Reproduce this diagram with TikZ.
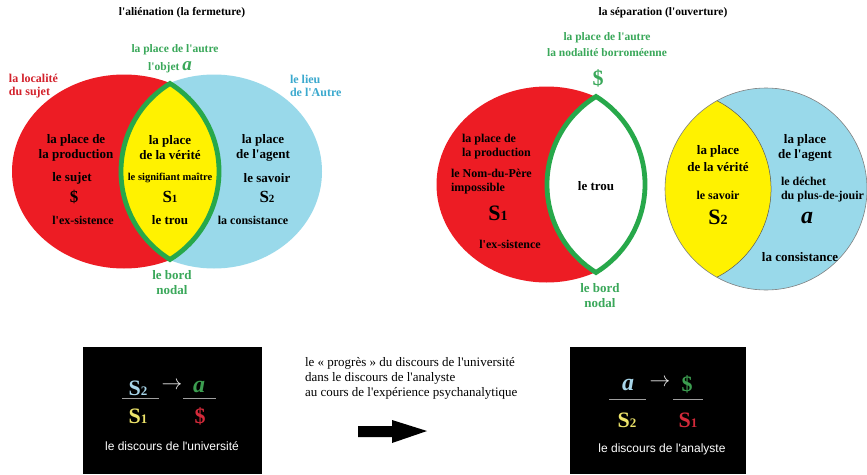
\documentclass[tikz,border=0pt]{standalone}
\usepackage{fontspec}
\setmainfont{Liberation Serif}[Ligatures=TeXOff]
\setsansfont{Liberation Sans}[Ligatures=TeXOff]
\definecolor{vred}{HTML}{ED1C24}
\definecolor{vblue}{HTML}{99D9EA}
\definecolor{vyellow}{HTML}{FFF200}
\definecolor{lensgreen}{HTML}{27A84A}
\definecolor{tgreen}{HTML}{3AA85A}
\definecolor{tred}{HTML}{D3222C}
\definecolor{tblue}{HTML}{3BA9CE}
\definecolor{bblue}{HTML}{A8D6EA}
\definecolor{bgreen}{HTML}{3C9E50}
\definecolor{byellow}{HTML}{EDE46A}
\definecolor{bred}{HTML}{D42A3A}
\newcommand\myfs[2]{\fontsize{#1}{#2}\selectfont}
\newcommand\bigS[3]{{\myfs{#1}{#1}S\myfs{#2}{#2}#3}}
\newcommand\lensat[2]{({#1},{#2-88}) arc[start angle=121.77,end angle=238.23,radius=103.5pt] arc[start angle=-58.23,end angle=58.23,radius=103.5pt] -- cycle}
\begin{document}
\begin{tikzpicture}[x=1pt,y=-1pt,
  every node/.style={inner sep=0pt, outer sep=0pt},
  vlbl/.style={font=\bfseries\myfs{13}{15}, align=center},
  vlbls/.style={font=\bfseries\myfs{12}{14}, align=center},
  glbl/.style={font=\bfseries\myfs{11.5}{16}, text=tgreen, align=center},
  gbord/.style={font=\bfseries\myfs{13}{15}, text=tgreen, align=center},
  ttl/.style={font=\bfseries\myfs{11.5}{13}},
  lensline/.style={draw=lensgreen, line width=4.8pt, line join=miter, miter limit=20},
  fracbar/.style={draw=gray!75!white, line width=1pt},
  capt/.style={font=\sffamily\myfs{12}{14}, text=white},
  bsym/.style={font=\bfseries\myfs{22}{22}},
  bita/.style={font=\bfseries\itshape\myfs{24}{24}},
  warrow/.style={font=\myfs{22}{22}, text=white!85!gray},
]
\fill[white] (0,0) rectangle (867,474);
\useasboundingbox (0,0) rectangle (867,474);

% ---------- left Venn ----------
\fill[vblue] (214,171.5) ellipse[x radius=108pt, y radius=97pt];
\begin{scope}
  \clip (0,0) rectangle (170,474);
  \fill[vred] (124,171.5) ellipse[x radius=112pt, y radius=97pt];
\end{scope}
\path[fill=vyellow, lensline] \lensat{170}{171.5};

\node[ttl] (t1) at (182,13) {l'aliénation (la fermeture)};
\node[glbl] (g1) at (175,50) {la place de l'autre};
\node[glbl, anchor=base] (g2) at (170,70) {l'objet {\myfs{19}{19}\itshape a}};
\node[font=\bfseries\myfs{12}{12.5}, text=tred, align=left, anchor=west] (loc) at (9,86) {la localité\\du sujet};
\node[font=\bfseries\myfs{12}{12.5}, text=tblue, align=left, anchor=west] (lieu) at (290,86) {le lieu\\de l'Autre};
\node[vlbl] (rp) at (76,148) {la place de\\la production};
\node[vlbl] (rs) at (72,178) {le sujet};
\node[bsym, font=\bfseries\myfs{17}{17}] (rS) at (74,197) {\$};
\node[vlbls] (rex) at (83,220) {l'ex-sistence};
\node[vlbl] (yp) at (170,148) {la place\\de la vérité};
\node[font=\bfseries\myfs{10.5}{12}] (ysm) at (170,178) {le signifiant maître};
\node[font=\bfseries] (yS) at (170,197) {\bigS{17}{11}{1}};
\node[vlbl] (ytrou) at (170,220) {le trou};
\node[vlbl] (bp) at (263,148) {la place\\de l'agent};
\node[vlbl] (bs) at (267,178) {le savoir};
\node[font=\bfseries] (bS) at (267,197) {\bigS{17}{11}{2}};
\node[vlbls] (bc) at (253,220) {la consistance};
\node[gbord] (bord1) at (172,283) {le bord\\nodal};

% ---------- right Venn ----------
\begin{scope}
  \clip (0,0) rectangle (596,474);
  \fill[vred] (546.5,184.5) ellipse[x radius=110pt, y radius=98pt];
\end{scope}
\path[fill=white, lensline] \lensat{596}{184.5};

\fill[vblue] (766,189) circle[radius=101pt];
\begin{scope}
  \clip (766,189) circle[radius=101pt];
  \fill[vyellow] (672,189) circle[radius=99pt];
\end{scope}
\draw[gray, line width=0.6pt] (766,189) circle[radius=101pt];
\draw[gray!70!black, line width=0.5pt] (716.9,100.7) arc[start angle=63.05, end angle=-63.05, radius=99pt];

\node[ttl] (t2) at (663,13) {la séparation (l'ouverture)};
\node[glbl] (g3) at (607,45) {la place de l'autre\\la nodalité borroméenne};
\node[font=\bfseries\myfs{22}{22}, text=tgreen] (g4) at (598,78) {\$};
\node[vlbls, align=left, anchor=west] (rp2) at (462,147) {la place de\\la production};
\node[vlbls, align=left, anchor=west] (rn2) at (451,182) {le Nom-du-Père\\impossible};
\node[font=\bfseries] (rS2) at (498,213) {\bigS{22}{14}{1}};
\node[vlbls] (rex2) at (510,244) {l'ex-sistence};
\node[vlbl] (trou2) at (596,186) {le trou};
\node[gbord] (bord2) at (600,295.5) {le bord\\nodal};
\node[font=\bfseries\myfs{13}{16.5}, align=center] (yp2) at (718,158.5) {la place\\de la vérité};
\node[vlbls] (ys2) at (718,195) {le savoir};
\node[font=\bfseries] (yS2) at (718,217) {\bigS{22}{14}{2}};
\node[vlbl] (bp2) at (805,147.5) {la place\\de l'agent};
\node[vlbls, align=left, anchor=west] (bd2) at (781,190) {le déchet\\du plus-de-jouir};
\node[bita] (ba2) at (807,218) {a};
\node[vlbl] (bc2) at (800,257) {la consistance};

% ---------- bottom ----------
\fill[black] (83,347) rectangle (262,474);
\fill[black] (570,347) rectangle (746,474);

\node[font=\bfseries, text=bblue] (u1) at (138,388) {\bigS{22}{13}{2}};
\node[warrow] (u2) at (172,386) {$\rightarrow$};
\node[bita, text=bgreen] (u3) at (199,387) {a};
\draw[fracbar] (122,398) -- (159,398);
\draw[fracbar] (183,398) -- (216,398);
\node[font=\bfseries, text=byellow] (u4) at (138,416) {\bigS{22}{13}{1}};
\node[bsym, text=bred] (u5) at (200,416) {\$};
\node[capt] (u6) at (172,446) {le discours de l'université};

\node[bita, text=bblue] (v1) at (628,385) {a};
\node[warrow] (v2) at (660,383) {$\rightarrow$};
\node[bsym, text=bgreen] (v3) at (687,384) {\$};
\draw[fracbar] (609,399) -- (646,399);
\draw[fracbar] (673,399) -- (703,399);
\node[font=\bfseries, text=byellow] (v4) at (627,420) {\bigS{22}{13}{2}};
\node[font=\bfseries, text=bred] (v5) at (688,420) {\bigS{22}{13}{1}};
\node[capt] (v6) at (662,449) {le discours de l'analyste};

\node[font=\myfs{13}{15}, align=left, anchor=west] (mid) at (305,378) {le « progrès » du discours de l'université\\dans le discours de l'analyste\\au cours de l'expérience psychanalytique};
\fill[black] (358,426) -- (392,426) -- (392,420) -- (427,431) -- (392,443) -- (392,437) -- (358,437) -- cycle;
\end{tikzpicture}
\end{document}
